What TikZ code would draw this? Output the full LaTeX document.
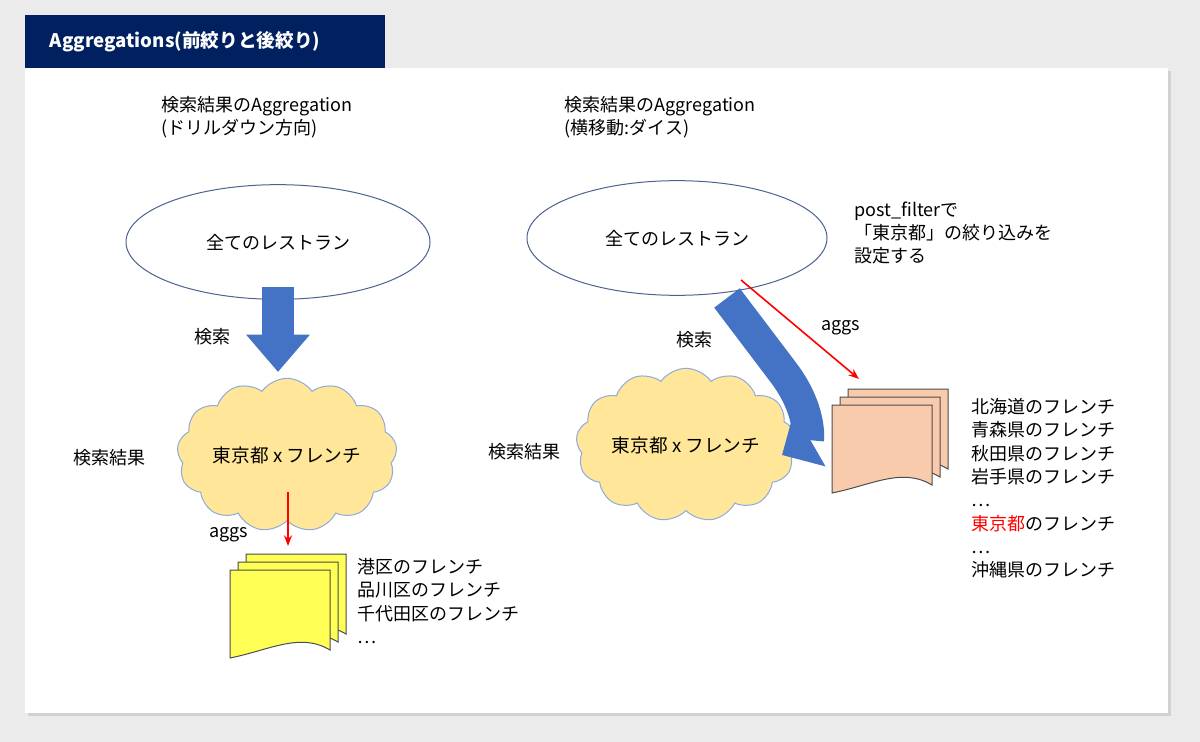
\documentclass[tikz,border=0pt]{standalone}
\usepackage{fontspec}
\setmainfont{Noto Sans CJK JP}
\usetikzlibrary{shapes.symbols,shapes.geometric,arrows.meta}
\definecolor{navy}{RGB}{0,32,96}
\definecolor{arrblue}{RGB}{68,114,196}
\definecolor{cloudyel}{RGB}{255,230,153}
\definecolor{docyel}{RGB}{255,255,85}
\definecolor{docpeach}{RGB}{248,203,173}
\tikzset{every picture/.style={line width=0.75pt}}
\tikzset{
  lbl/.style={anchor=west,inner sep=0.75pt,font=\fontsize{13.5}{17.5}\selectfont},
  cloudbox/.style={cloud,cloud puffs=13,cloud puff arc=110,aspect=1.6,draw=arrblue!60,fill=cloudyel,inner sep=0pt,font=\fontsize{14}{16}\selectfont},
  circle ell/.style={ellipse,draw=navy!70,fill=white,font=\fontsize{13.5}{15}\selectfont},
  redarr/.style={red,line width=1.2pt,-{Stealth[length=8pt,width=6pt]}}
}
\newcommand{\docpage}[3]{% x, y, colour
  \draw[fill=#3,draw=black!70] (#1,#2) -- ++(100,0) -- ++(0,80)
    .. controls +(-30,-18) and +(40,-8) .. ++(-100,8) -- cycle;}
\newcommand{\docstack}[3]{%
  \docpage{#1+16}{#2-16}{#3}\docpage{#1+8}{#2-8}{#3}\docpage{#1}{#2}{#3}}
\begin{document}
\begin{tikzpicture}[x=0.75pt,y=0.75pt,yscale=-1,xscale=1]
%background and slide
\fill[black!8] (0,0) rectangle (1200,742);
\fill[black!18] (28,71) rectangle (1171,716);
\fill[white] (25,68) rectangle (1168,713);
\fill[navy] (25,15) rectangle (385,68);
\node[anchor=west,text=white,font=\bfseries\fontsize{14}{16}\selectfont] (title) at (45,42) {Aggregations(前絞りと後絞り)};

%left side
\node[lbl,anchor=north west,align=left] (ltitle) at (160,95) {検索結果のAggregation\\(ドリルダウン方向)};
\node[circle ell,minimum width=228pt,minimum height=86pt] (lall) at (278,242) {全てのレストラン};
\draw[arrblue,line width=24pt,-{Triangle[length=28pt,width=46pt]}] (278,287) -- (278,372);
\node[lbl] (lsearch) at (193,337) {検索};
\node[cloudbox,minimum width=142pt,minimum height=96pt] (lcloud) at (287,455) {東京都 x フレンチ};
\node[lbl] (lresult) at (72,458) {検索結果};
\coordinate (lfrom) at (288,492);
\coordinate (lto) at (288,546);
\draw[redarr] (lfrom) -- (lto);
\node[lbl] (laggs) at (208,535) {aggs};
\docstack{230}{570}{docyel}
\node[lbl,anchor=north west,align=left] (llist) at (356,557) {港区のフレンチ\\品川区のフレンチ\\千代田区のフレンチ\\…};

%right side
\node[lbl,anchor=north west,align=left] (rtitle) at (563,95) {検索結果のAggregation\\(横移動:ダイス)};
\node[circle ell,minimum width=225pt,minimum height=86pt] (rall) at (677,238) {全てのレストラン};
\node[lbl,anchor=north west,align=left] (rnote) at (853,200) {post\_filterで\\「東京都」の絞り込みを\\設定する};
\node[lbl] (rsearch) at (675,340) {検索};
\node[cloudbox,minimum width=138pt,minimum height=88pt] (rcloud) at (686,445) {東京都 x フレンチ};
\draw[arrblue,line width=24pt,-{Triangle[length=24pt,width=46pt]}] (727,298) -- (783,372) .. controls (812,410) and (808,440) .. (782,455);
\node[lbl] (rresult) at (487,452) {検索結果};
\coordinate (rfrom) at (741,280);
\coordinate (rto) at (859,379);
\draw[redarr] (rfrom) -- (rto);
\node[lbl] (raggs) at (820,328) {aggs};
\docstack{832}{405}{docpeach}
\node[lbl,anchor=north west,align=left] (rlist) at (970,397) {北海道のフレンチ\\青森県のフレンチ\\秋田県のフレンチ\\岩手県のフレンチ\\…\\\textcolor{red}{東京都}のフレンチ\\…\\沖縄県のフレンチ};
\end{tikzpicture}
\end{document}
